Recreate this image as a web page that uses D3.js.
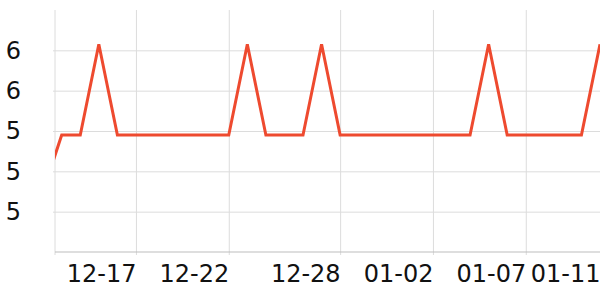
<!DOCTYPE html>
<html>
<head>
<meta charset="utf-8">
<script src="https://cdn.jsdelivr.net/npm/d3@7"></script>
<style>
  body { margin: 0; background: #fff; }
  svg { display: block; }
</style>
</head>
<body>
<div id="chart"></div>
<script>
// daily values, 2023-12-12 .. 2024-01-11
var dates = [
    '2023-12-12', '2023-12-13', '2023-12-14', '2023-12-15', '2023-12-16', '2023-12-17',
    '2023-12-18', '2023-12-19', '2023-12-20', '2023-12-21', '2023-12-22', '2023-12-23',
    '2023-12-24', '2023-12-25', '2023-12-26', '2023-12-27', '2023-12-28', '2023-12-29',
    '2023-12-30', '2023-12-31', '2024-01-01', '2024-01-02', '2024-01-03', '2024-01-04',
    '2024-01-05', '2024-01-06', '2024-01-07', '2024-01-08', '2024-01-09', '2024-01-10',
    '2024-01-11'
];
var values = [
    5.10, 5.38, 5.38, 5.83, 5.38, 5.38,
    5.38, 5.38, 5.38, 5.38, 5.38, 5.83,
    5.38, 5.38, 5.38, 5.83, 5.38, 5.38,
    5.38, 5.38, 5.38, 5.38, 5.38, 5.38,
    5.83, 5.38, 5.38, 5.38, 5.38, 5.38,
    5.83
];
var xTickDates = ['2023-12-17', '2023-12-22', '2023-12-28', '2024-01-02', '2024-01-07', '2024-01-11'];
var yTicks = [5.0, 5.2, 5.4, 5.6, 5.8];
var xStart = '2023-12-12T15:20';
var xEnd = '2024-01-11';
var yDomain = [4.8, 6.0];

var margin = {top: 10, right: 0, bottom: 48, left: 55},
    width = 600 - margin.left - margin.right,
    height = 300 - margin.top - margin.bottom;

var parse = d3.timeParse('%Y-%m-%d');
var parseT = d3.timeParse('%Y-%m-%dT%H:%M');
var fmt = d3.timeFormat('%m-%d');

var data = dates.map(function(d, i) {
    return {date: parse(d), value: values[i]};
});

var x = d3.scaleTime()
    .domain([parseT(xStart), parse(xEnd)])
    .range([0, width]);

var y = d3.scaleLinear()
    .domain(yDomain)
    .range([height, 0]);

var svg = d3.select('#chart')
    .append('svg')
    .attr('width', 600)
    .attr('height', 300)
    .append('g')
    .attr('transform', 'translate(' + margin.left + ',' + margin.top + ')');

svg.append('defs').append('clipPath')
    .attr('id', 'clip')
    .append('rect')
    .attr('width', width)
    .attr('height', height);

// horizontal grid + y labels
var yAxis = svg.append('g')
    .call(d3.axisLeft(y)
        .tickValues(yTicks)
        .tickSize(-width)
        .tickPadding(34)
        .tickFormat(d3.format('.0f')))
    .attr('font-family', '"DejaVu Sans", sans-serif')
    .attr('font-size', 24);
yAxis.select('.domain').remove();
yAxis.selectAll('line').attr('stroke', '#dcdcdc').attr('x1', -2);
yAxis.selectAll('text').attr('fill', '#111');

// vertical grid + x labels
var xAxis = svg.append('g')
    .attr('transform', 'translate(0,' + height + ')')
    .call(d3.axisBottom(x)
        .tickValues(xTickDates.map(parse))
        .tickSize(-height)
        .tickFormat(fmt))
    .attr('font-family', '"DejaVu Sans", sans-serif')
    .attr('font-size', 24);
xAxis.select('.domain').remove();
xAxis.selectAll('line').attr('stroke', '#dcdcdc').attr('y1', 3);
xAxis.selectAll('text')
    .attr('fill', '#111')
    .attr('text-anchor', 'end')
    .attr('y', 13);

// left edge line
svg.append('line')
    .attr('x1', 0).attr('x2', 0)
    .attr('y1', 0).attr('y2', height + 3)
    .attr('stroke', '#dcdcdc');

// bottom axis line
svg.append('line')
    .attr('x1', 0).attr('x2', width)
    .attr('y1', height).attr('y2', height)
    .attr('stroke', '#bdbdbd');

var line = d3.line()
    .x(function(d) { return x(d.date); })
    .y(function(d) { return y(d.value); });

svg.append('path')
    .datum(data)
    .attr('clip-path', 'url(#clip)')
    .attr('fill', 'none')
    .attr('stroke', '#ee4a2f')
    .attr('stroke-width', 3)
    .attr('stroke-linejoin', 'miter')
    .attr('d', line);
</script>
</body>
</html>
